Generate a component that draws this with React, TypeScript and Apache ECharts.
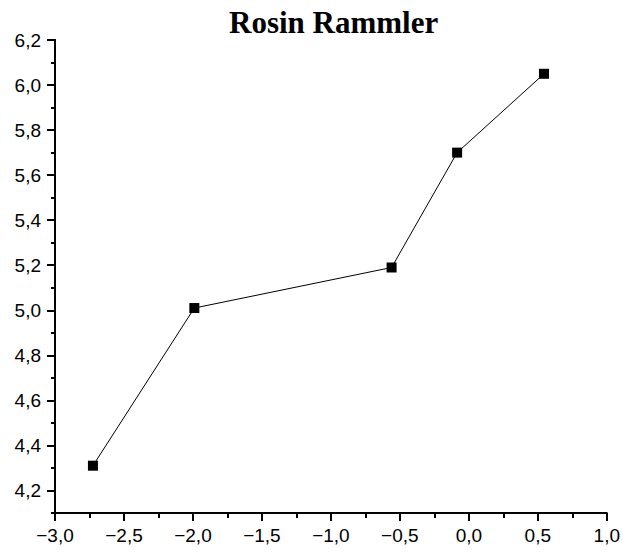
import React, { useEffect, useRef } from "react";
import * as echarts from "echarts";

const xValues = [-2.725, -1.99, -0.56, -0.085, 0.545];
const yValues = [4.31, 5.01, 5.19, 5.7, 6.05];
const yMajorTicks = [4.2, 4.4, 4.6, 4.8, 5.0, 5.2, 5.4, 5.6, 5.8, 6.0, 6.2];
const yMinorTicks = [4.1, 4.3, 4.5, 4.7, 4.9, 5.1, 5.3, 5.5, 5.7, 5.9, 6.1];
const titleText = "Rosin Rammler";

const fmt = (v: number) => v.toFixed(1).replace(".", ",").replace("-", "\u2212");

export default function App() {
  const ref = useRef<HTMLDivElement>(null);
  useEffect(() => {
    if (!ref.current) return;
    const chart = echarts.init(ref.current, undefined, { renderer: "svg" });
    const labelFont = { fontFamily: "Liberation Sans, Arial, sans-serif", fontSize: 19, color: "#000" };
    chart.setOption({
      animation: false,
      backgroundColor: "#fff",
      title: {
        text: titleText,
        left: 224,
        top: 2,
        textStyle: {
          fontFamily: "Liberation Serif, Times New Roman, serif",
          fontWeight: "bold",
          fontSize: 31,
          color: "#000",
        },
      },
      grid: { left: 55, right: 16, top: 40, bottom: 42, containLabel: false },
      xAxis: {
        type: "value",
        min: -3,
        max: 1,
        interval: 0.5,
        axisLine: { show: true, onZero: false, lineStyle: { color: "#000", width: 2 } },
        axisTick: { show: true, length: 8, lineStyle: { color: "#000", width: 2 } },
        minorTick: { show: true, splitNumber: 2, length: 5, lineStyle: { color: "#000", width: 2 } },
        splitLine: { show: false },
        axisLabel: { ...labelFont, margin: 13, formatter: (v: number) => fmt(v) },
      },
      yAxis: [
        {
          type: "value",
          min: 4.1,
          max: 6.2,
          axisLine: { show: true, onZero: false, lineStyle: { color: "#000", width: 2 } },
          axisTick: { show: true, length: 8, customValues: yMajorTicks, lineStyle: { color: "#000", width: 2 } },
          splitLine: { show: false },
          axisLabel: { ...labelFont, margin: 14, customValues: yMajorTicks, formatter: (v: number) => fmt(v) },
        },
        {
          type: "value",
          min: 4.1,
          max: 6.2,
          position: "left",
          offset: 0,
          axisLine: { show: true, onZero: false, lineStyle: { color: "#000", width: 2 } },
          axisTick: { show: true, length: 4, customValues: yMinorTicks, lineStyle: { color: "#000", width: 2 } },
          splitLine: { show: false },
          axisLabel: { show: false, customValues: yMinorTicks },
        },
      ],
      series: [
        {
          type: "line",
          yAxisIndex: 0,
          data: xValues.map((x, i) => [x, yValues[i]]),
          symbol: "rect",
          symbolSize: 10,
          lineStyle: { color: "#000", width: 1 },
          itemStyle: { color: "#000" },
        },
      ],
    });
    return () => chart.dispose();
  }, []);
  return (
    <div
      ref={ref}
      style={{ position: "fixed", left: 0, top: 0, width: 623, height: 555, background: "#fff" }}
    />
  );
}
